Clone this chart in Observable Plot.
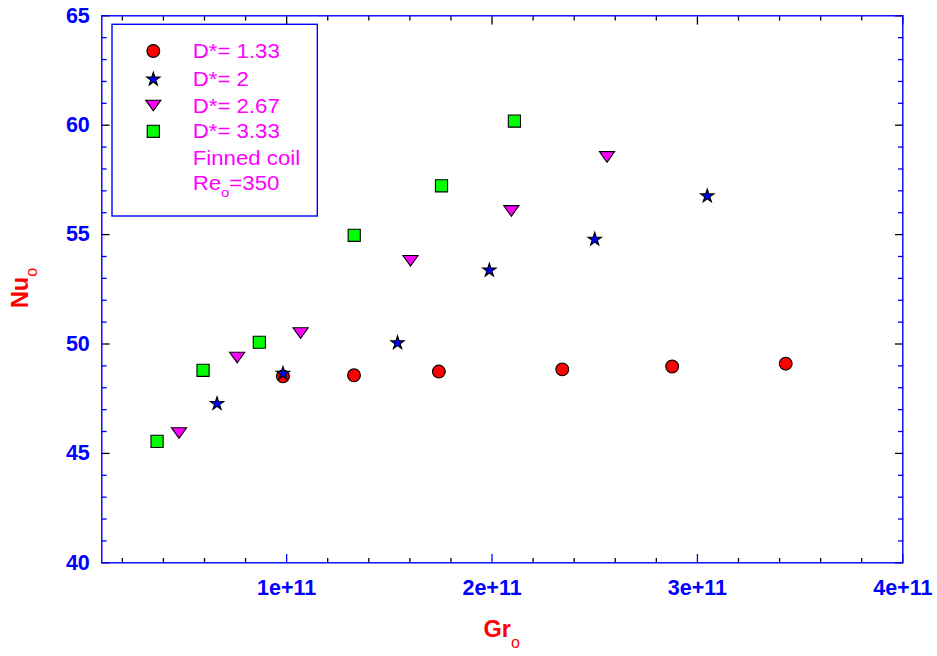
<!DOCTYPE html>
<html>
<head>
<meta charset="utf-8">
<script src="https://cdn.jsdelivr.net/npm/d3@7"></script>
<script src="https://cdn.jsdelivr.net/npm/@observablehq/plot@0.6"></script>
<style>
  html, body { margin: 0; padding: 0; background: #fff; }
  #chart svg { display: block; }
</style>
</head>
<body>
<div id="chart"></div>
<script>
// ---- data (Gr_o, Nu_o) ----
const seriesNames = ["D*= 1.33", "D*= 2", "D*= 2.67", "D*= 3.33"];
const gr133 = [0.982e11, 1.328e11, 1.741e11, 2.342e11, 2.877e11, 3.430e11];
const nu133 = [48.52, 48.57, 48.74, 48.84, 48.97, 49.10];
const gr2   = [0.661e11, 0.982e11, 1.540e11, 1.987e11, 2.500e11, 3.048e11];
const nu2   = [47.27, 48.65, 50.05, 53.37, 54.78, 56.76];
const gr267 = [0.476e11, 0.759e11, 1.068e11, 1.603e11, 2.094e11, 2.560e11];
const nu267 = [45.93, 49.38, 50.50, 53.80, 56.08, 58.55];
const gr333 = [0.369e11, 0.593e11, 0.867e11, 1.329e11, 1.754e11, 2.109e11];
const nu333 = [45.55, 48.80, 50.08, 54.97, 57.23, 60.19];
const noteLines = ["Finned coil", "Re", "o", "=350"];

// ---- ticks ----
const xMajor = [1e11, 2e11, 3e11, 4e11];
const xTickLabels = ["1e+11", "2e+11", "3e+11", "4e+11"];
const yMajor = [40, 45, 50, 55, 60, 65];
const yTickLabels = ["40", "45", "50", "55", "60", "65"];
const xMinor = d3.range(2e10, 4e11, 2e10).filter(v => Math.abs(v % 1e11) > 1);
const yMinor = d3.range(41, 65, 1).filter(v => v % 5 !== 0);

const zip = (xs, ys) => xs.map((x, i) => ({gr: x, nu: ys[i]}));
const d133 = zip(gr133, nu133), d2 = zip(gr2, nu2), d267 = zip(gr267, nu267), d333 = zip(gr333, nu333);

// custom symbols
const triDown = {draw(ctx, size) { const r = Math.sqrt(size / Math.PI); ctx.moveTo(-r, -0.7 * r); ctx.lineTo(r, -0.7 * r); ctx.lineTo(0, 0.7 * r); ctx.closePath(); }};
const sq = {draw(ctx, size) { const r = Math.sqrt(size / Math.PI) * 0.88; ctx.rect(-r, -r, 2 * r, 2 * r); }};

const styles = [
  {data: d133, symbol: "circle", r: 6.4, fill: "#ff0000"},
  {data: d2, symbol: "star", r: 4.2, fill: "#0000ff"},
  {data: d267, symbol: triDown, r: 7.6, fill: "#ff00ff"},
  {data: d333, symbol: sq, r: 6.9, fill: "#00ff00"}
];

const FONT = "'Liberation Sans', Arial, Helvetica, sans-serif";
const tickText = {fontSize: 21.5, fontWeight: "bold", fill: "#0000ff", fontFamily: FONT};
const xLab = new Map(xMajor.map((v, i) => [v, xTickLabels[i]]));
const yLab = new Map(yMajor.map((v, i) => [v, yTickLabels[i]]));
const blank = () => "";

const W = 937, H = 656;
const mL = 101.3, mR = 34.7, mT = 15.3, mB = 93.7;

const plot = Plot.plot({
  width: W, height: H,
  marginLeft: mL, marginRight: mR, marginTop: mT, marginBottom: mB,
  style: {fontFamily: FONT, background: "white"},
  x: {type: "linear", domain: [1e10, 4e11]},
  y: {type: "linear", domain: [40, 65]},
  marks: [
    // tick labels
    Plot.axisX(xMajor, {anchor: "bottom", tickSize: 0, tickPadding: 16.5, tickFormat: d => xLab.get(d), label: null, ...tickText}),
    Plot.axisY(yMajor, {anchor: "left", tickSize: 0, tickPadding: 12, tickFormat: d => yLab.get(d), label: null, ...tickText}),
    // inward ticks: bottom/top
    Plot.axisX(xMajor, {anchor: "bottom", tickSize: -8.3, stroke: "#0000ff", strokeWidth: 1.3, tickFormat: blank, label: null}),
    Plot.axisX(xMinor, {anchor: "bottom", tickSize: -4.3, stroke: "#000000", strokeWidth: 1.3, tickFormat: blank, label: null}),
    Plot.axisX(xMajor, {anchor: "top", tickSize: -8.3, stroke: "#000000", strokeWidth: 1.3, tickFormat: blank, label: null}),
    Plot.axisX(xMinor, {anchor: "top", tickSize: -4.3, stroke: "#000000", strokeWidth: 1.3, tickFormat: blank, label: null}),
    // inward ticks: left/right
    Plot.axisY(yMajor, {anchor: "left", tickSize: -8.3, stroke: "#000000", strokeWidth: 1.3, tickFormat: blank, label: null}),
    Plot.axisY(yMinor, {anchor: "left", tickSize: -5.3, stroke: "#0000ff", strokeWidth: 1.3, tickFormat: blank, label: null}),
    Plot.axisY(yMajor, {anchor: "right", tickSize: -8.3, stroke: "#000000", strokeWidth: 1.3, tickFormat: blank, label: null}),
    Plot.axisY(yMinor, {anchor: "right", tickSize: -5.3, stroke: "#0000ff", strokeWidth: 1.3, tickFormat: blank, label: null}),
    // data
    ...styles.map(s => Plot.dot(s.data, {x: "gr", y: "nu", symbol: s.symbol, r: s.r, fill: s.fill, stroke: "#000", strokeWidth: 1.1})),
    Plot.frame({stroke: "#0000ff", strokeWidth: 1.4})
  ]
});

document.getElementById("chart").appendChild(plot);

// ---- axis titles and legend ----
const svg = d3.select(plot);

const gt = svg.append("text").attr("x", 501.7).attr("y", 637.3).attr("text-anchor", "middle")
  .attr("fill", "#ff0000").attr("font-family", FONT).attr("font-weight", "bold").attr("font-size", 23.5);
gt.append("tspan").text("Gr");
gt.append("tspan").attr("font-size", 16).attr("font-weight", "normal").attr("dy", 11).text("o");

const nt = svg.append("text").attr("transform", "translate(28.3,288) rotate(-90)").attr("text-anchor", "middle")
  .attr("fill", "#ff0000").attr("font-family", FONT).attr("font-weight", "bold").attr("font-size", 23.5);
nt.append("tspan").text("Nu");
nt.append("tspan").attr("font-size", 16).attr("font-weight", "normal").attr("dy", 9).text("o");

// legend box
const lg = svg.append("g");
lg.append("rect").attr("x", 112).attr("y", 24.3).attr("width", 205.3).attr("height", 191.7)
  .attr("fill", "white").attr("stroke", "#0000ff").attr("stroke-width", 1.4);

const rowY = [51, 79.3, 105.5, 131.3, 157.5, 183];
const symX = 153.3, textX = 192.7;
const symSize = s => (typeof s.symbol === "string"
  ? d3.symbol(s.symbol === "circle" ? d3.symbolCircle : d3.symbolStar, Math.PI * s.r * s.r)
  : d3.symbol(s.symbol, Math.PI * s.r * s.r));
const legendText = (y) => lg.append("text")
  .attr("transform", `translate(${textX},${y + 7}) scale(1.14,1)`)
  .attr("text-anchor", "start")
  .attr("fill", "#ff00ff").attr("font-family", FONT).attr("font-size", 19.5);

styles.forEach((s, i) => {
  lg.append("path").attr("d", symSize(s)()).attr("transform", `translate(${symX},${rowY[i]})`)
    .attr("fill", s.fill).attr("stroke", "#000").attr("stroke-width", 1.1);
  legendText(rowY[i]).text(seriesNames[i]);
});
legendText(rowY[4]).text(noteLines[0]);
const re = legendText(rowY[5]);
re.append("tspan").text(noteLines[1]);
re.append("tspan").attr("font-size", 13).attr("dy", 7).text(noteLines[2]);
re.append("tspan").attr("dy", -7).text(noteLines[3]);
</script>
</body>
</html>
